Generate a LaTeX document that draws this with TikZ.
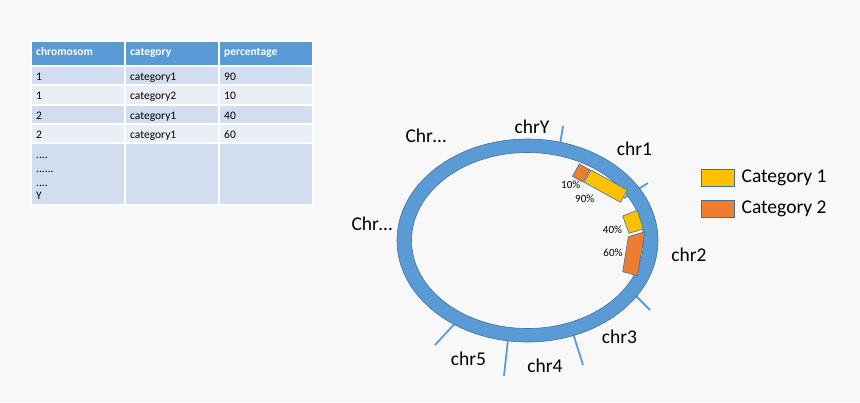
\documentclass[tikz,border=0pt]{standalone}
\usepackage{fontspec}
\setmainfont{Carlito}
\usepackage{xcolor}
\usepackage{tikz}
\usetikzlibrary{positioning}

\definecolor{bgGray}{HTML}{F8F8F8}
\definecolor{ringBlue}{HTML}{5B9BD5}
\definecolor{ringEdge}{HTML}{41719C}
\definecolor{catYellow}{HTML}{FFC000}
\definecolor{catOrange}{HTML}{ED7D31}
\definecolor{rowDark}{HTML}{D2DEEF}
\definecolor{rowLight}{HTML}{EAEFF7}

\begin{document}
\begin{tikzpicture}[x=1pt, y=-1pt,
  cell/.style={draw=white, line width=1.5pt},
  celltext/.style={anchor=base west, inner sep=0pt, font=\fontsize{11.5}{13.7}\selectfont},
  headtext/.style={celltext, text=white, font=\fontsize{11.5}{13.7}\selectfont\bfseries},
  chrlabel/.style={anchor=base, inner sep=0pt, font=\fontsize{19.5}{23}\selectfont},
  pctlabel/.style={inner sep=0pt, font=\fontsize{11}{13}\selectfont},
  chrtick/.style={ringBlue, line width=1.8pt},
  bar/.style={draw=ringEdge, line width=0.6pt},
  legbox/.style={draw=ringEdge, line width=0.8pt, minimum width=33pt, minimum height=17pt, inner sep=0pt}]

  % Background
  \fill[bgGray] (0,0) rectangle (860,402);
  \useasboundingbox (0,0) rectangle (860,402);

  % Table
  \foreach \xa/\xb in {31/125, 125/219, 219/313} {
    \filldraw[cell, fill=ringBlue] (\xa,41) rectangle (\xb,66);
    \foreach \ya/\yb/\shade in {66/85/rowDark, 85/105/rowLight, 105/124/rowDark, 124/143/rowLight, 143/205/rowDark}
      \filldraw[cell, fill=\shade] (\xa,\ya) rectangle (\xb,\yb);
  }
  \node[headtext] (hChr) at (36,55) {chromosom};
  \node[headtext] (hCat) at (130,55) {category};
  \node[headtext] (hPct) at (224,55) {percentage};
  \foreach \y/\c/\k/\p [count=\i] in {80/1/category1/90, 99.5/1/category2/10, 119/2/category1/40, 138/2/category1/60} {
    \node[celltext] (rowChr\i) at (36,\y) {\c};
    \node[celltext] (rowCat\i) at (130,\y) {\k};
    \node[celltext] (rowPct\i) at (224,\y) {\p};
  }
  \node[celltext] (more1) at (36,158.5) {....};
  \node[celltext] (more2) at (36,172) {......};
  \node[celltext] (more3) at (36,186) {....};
  \node[celltext] (more4) at (36,199.5) {Y};

  % Ticks between chromosomes
  \coordinate (C) at (527.5,240.5);
  \coordinate (tY1) at (559,150);  \coordinate (tY2) at (563,126);
  \coordinate (t11) at (624,198);  \coordinate (t12) at (648,183);
  \coordinate (t21) at (628,288);  \coordinate (t22) at (650,310);
  \coordinate (t31) at (572,330);  \coordinate (t32) at (583,365);
  \coordinate (t41) at (509,330);  \coordinate (t42) at (504,376);
  \coordinate (t51) at (460,318);  \coordinate (t52) at (435,345);
  \foreach \t in {tY, t1, t2, t3, t4, t5}
    \draw[chrtick] (\t1) -- (\t2);

  % Ring
  \filldraw[fill=ringBlue, draw=ringEdge, line width=0.6pt, even odd rule]
    (C) ellipse [x radius=130.5pt, y radius=101.5pt]
    (C) ellipse [x radius=116pt, y radius=88pt];

  % Category bars
  \filldraw[bar, fill=catOrange] (579.3,164) -- (589.8,169.8) -- (583,182.1) -- (572.5,176.3) -- cycle;
  \filldraw[bar, fill=catYellow] (591,170) -- (627.3,190) -- (620.5,202.3) -- (584.2,182.3) -- cycle;
  \filldraw[bar, fill=catYellow] (622.7,216) -- (637.3,210.3) -- (643.3,229) -- (629,233.3) -- cycle;
  \filldraw[bar, fill=catOrange] (628.3,236.7) -- (645,231.7) -- (637.3,275.7) -- (622.7,271.7) -- cycle;

  \node[pctlabel] (p10) at (570.7,185) {10\%};
  \node[pctlabel] (p90) at (584.7,199) {90\%};
  \node[pctlabel] (p40) at (612.5,229.3) {40\%};
  \node[pctlabel] (p60) at (613,253) {60\%};

  % Chromosome labels
  \node[chrlabel] (lY) at (532,133) {chrY};
  \node[chrlabel] (lTop) at (426,142.5) {Chr…};
  \node[chrlabel] (l1) at (634.5,155) {chr1};
  \node[chrlabel] (l2) at (689,261) {chr2};
  \node[chrlabel] (l3) at (619.5,343) {chr3};
  \node[chrlabel] (l4) at (545,372) {chr4};
  \node[chrlabel] (l5) at (468.5,365) {chr5};
  \node[chrlabel] (lLeft) at (372,230) {Chr…};

  % Legend
  \node[legbox, fill=catYellow] (key1) at (717.5,177.5) {};
  \node[legbox, fill=catOrange] (key2) at (717.5,208.5) {};
  \node[font=\fontsize{19.5}{23}\selectfont, inner sep=0pt, right=7pt of key1] (leg1) {Category 1};
  \node[font=\fontsize{19.5}{23}\selectfont, inner sep=0pt, right=7pt of key2] (leg2) {Category 2};

\end{tikzpicture}
\end{document}
